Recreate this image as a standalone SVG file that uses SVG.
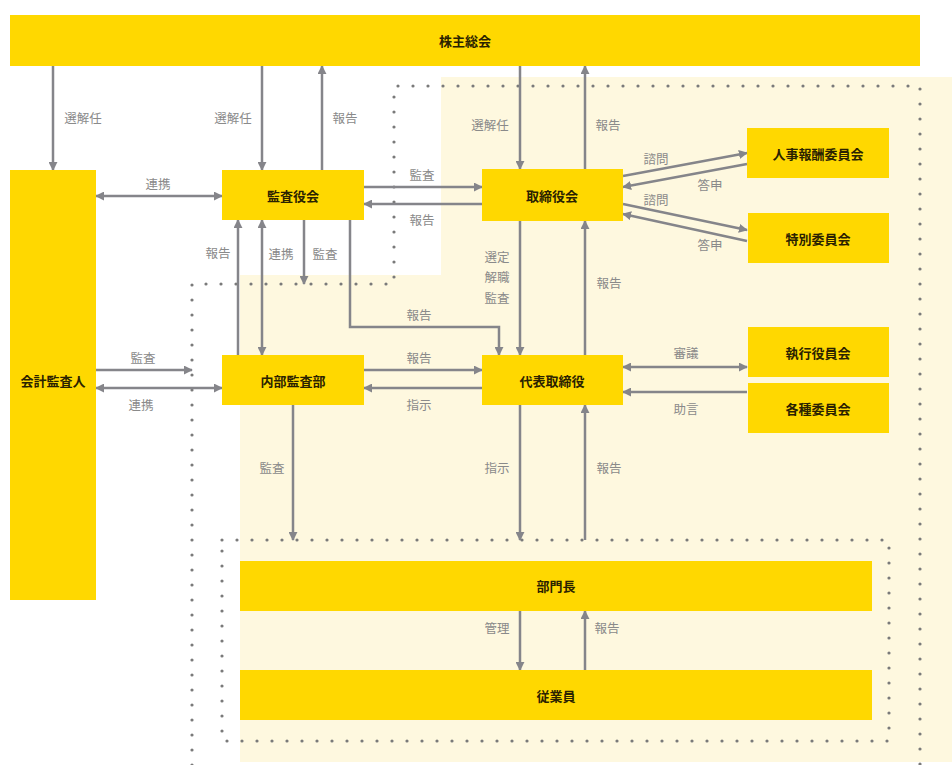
<svg xmlns="http://www.w3.org/2000/svg" width="952" height="765" viewBox="0 0 952 765">
<style>
.node{fill:#FFD800}
.nt{font-family:"Noto Sans CJK JP","Noto Sans",sans-serif;font-size:13px;font-weight:700;fill:#2a2200;text-anchor:middle;dominant-baseline:central}
.lb{font-family:"Noto Sans CJK JP","Noto Sans",sans-serif;font-size:12.5px;fill:#8a8a8a;text-anchor:middle;dominant-baseline:central}
.c{fill:none;stroke:#85858a;stroke-width:2.5}
.a{marker-end:url(#ah)}
.d{marker-start:url(#ah);marker-end:url(#ah)}
.dot{fill:none;stroke:#7a7a7a;stroke-width:3.2;stroke-linecap:round;stroke-dasharray:0 15}
</style>
<defs>
<marker id="ah" viewBox="0 0 10 10" refX="9" refY="5" markerWidth="9" markerHeight="9" markerUnits="userSpaceOnUse" orient="auto-start-reverse">
<path d="M0,0 L10,5 L0,10 z" fill="#85858a"/>
</marker>
</defs>
<rect width="952" height="765" fill="#ffffff"/>
<path d="M441,77 H952 V762 H240 V275 H441 Z" fill="#FEF8DF"/>
<g id="borders">
<path class="dot" d="M192,765 V284 H394 V86 H920 V765"/>
<rect class="dot" x="222" y="540" width="667" height="201"/>
</g>
<g id="connectors">
<path class="c a" d="M53,66 V170"/>
<path class="c a" d="M262,66 V170"/>
<path class="c a" d="M322,170 V66"/>
<path class="c d" d="M96,196 H222"/>
<path class="c a" d="M364,187 H482"/>
<path class="c a" d="M482,204 H364"/>
<path class="c a" d="M520,66 V169"/>
<path class="c a" d="M585,169 V66"/>
<path class="c a" d="M623,176 L747,153"/>
<path class="c a" d="M747,164 L623,187"/>
<path class="c a" d="M623,204 L747,230"/>
<path class="c a" d="M747,241 L623,214"/>
<path class="c a" d="M238,355 V220"/>
<path class="c d" d="M262,220 V355"/>
<path class="c a" d="M304,220 V284"/>
<path class="c a" d="M350,220 V327 H499 V355"/>
<path class="c a" d="M520,221 V355"/>
<path class="c a" d="M585,355 V221"/>
<path class="c a" d="M96,370 H192"/>
<path class="c d" d="M96,388 H222"/>
<path class="c a" d="M364,370 H482"/>
<path class="c a" d="M482,388 H364"/>
<path class="c d" d="M623,367 H747"/>
<path class="c a" d="M747,392 H623"/>
<path class="c a" d="M293,405 V540"/>
<path class="c a" d="M520,405 V540"/>
<path class="c a" d="M585,540 V405"/>
<path class="c a" d="M520,611 V670"/>
<path class="c a" d="M585,670 V611"/>
</g>
<g id="labels">
<text class="lb" x="83" y="117">選解任</text>
<text class="lb" x="233" y="117">選解任</text>
<text class="lb" x="345" y="117">報告</text>
<text class="lb" x="158" y="183">連携</text>
<text class="lb" x="422" y="174">監査</text>
<text class="lb" x="422" y="219">報告</text>
<text class="lb" x="490" y="124">選解任</text>
<text class="lb" x="608" y="124">報告</text>
<text class="lb" x="656" y="158">諮問</text>
<text class="lb" x="710" y="184">答申</text>
<text class="lb" x="656" y="199">諮問</text>
<text class="lb" x="710" y="244">答申</text>
<text class="lb" x="218" y="252">報告</text>
<text class="lb" x="281" y="253">連携</text>
<text class="lb" x="325" y="253">監査</text>
<text class="lb" x="497" y="256">選定</text>
<text class="lb" x="497" y="276">解職</text>
<text class="lb" x="497" y="297">監査</text>
<text class="lb" x="609" y="282">報告</text>
<text class="lb" x="419" y="314">報告</text>
<text class="lb" x="143" y="357">監査</text>
<text class="lb" x="141" y="404">連携</text>
<text class="lb" x="419" y="357">報告</text>
<text class="lb" x="419" y="404">指示</text>
<text class="lb" x="686" y="352">審議</text>
<text class="lb" x="686" y="408">助言</text>
<text class="lb" x="272" y="467">監査</text>
<text class="lb" x="497" y="467">指示</text>
<text class="lb" x="609" y="467">報告</text>
<text class="lb" x="497" y="627">管理</text>
<text class="lb" x="607" y="627">報告</text>
</g>
<g id="n-shareholders"><rect class="node" x="10" y="15" width="910" height="51"/><text class="nt" x="465" y="40">株主総会</text></g>
<g id="n-auditor"><rect class="node" x="10" y="170" width="86" height="430"/><text class="nt" x="53" y="380">会計監査人</text></g>
<g id="n-audit-board"><rect class="node" x="222" y="170" width="142" height="50"/><text class="nt" x="293" y="195">監査役会</text></g>
<g id="n-board"><rect class="node" x="482" y="169" width="141" height="52"/><text class="nt" x="552" y="195">取締役会</text></g>
<g id="n-hr"><rect class="node" x="747" y="128" width="142" height="50"/><text class="nt" x="818" y="153">人事報酬委員会</text></g>
<g id="n-special"><rect class="node" x="748" y="213" width="141" height="50"/><text class="nt" x="818" y="238">特別委員会</text></g>
<g id="n-internal-audit"><rect class="node" x="222" y="355" width="142" height="50"/><text class="nt" x="293" y="380">内部監査部</text></g>
<g id="n-ceo"><rect class="node" x="482" y="355" width="141" height="50"/><text class="nt" x="552" y="380">代表取締役</text></g>
<g id="n-exec"><rect class="node" x="748" y="327" width="141" height="50"/><text class="nt" x="818" y="352">執行役員会</text></g>
<g id="n-committees"><rect class="node" x="748" y="383" width="141" height="50"/><text class="nt" x="818" y="408">各種委員会</text></g>
<g id="n-dept"><rect class="node" x="240" y="561" width="632" height="50"/><text class="nt" x="556" y="585">部門長</text></g>
<g id="n-staff"><rect class="node" x="240" y="670" width="632" height="50"/><text class="nt" x="556" y="695">従業員</text></g>
</svg>
